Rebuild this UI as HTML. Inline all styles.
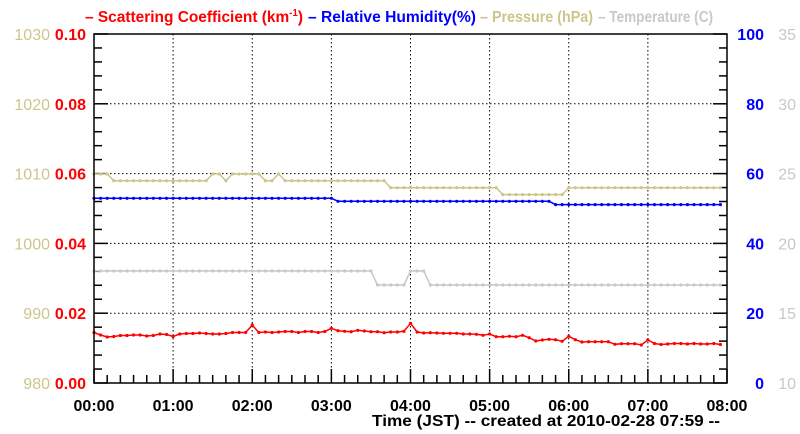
<!DOCTYPE html>
<html><head><meta charset="utf-8"><style>
html,body{margin:0;padding:0;background:#fff;}
svg{display:block;font-family:"Liberation Sans",Arial,sans-serif;}
</style></head><body>
<svg id="s" width="800" height="434" viewBox="0 0 800 434" xmlns="http://www.w3.org/2000/svg">
<rect width="800" height="434" fill="#fff"/>
<g font-size="16" font-weight="bold">
<text x="85" y="22" fill="#ff0000" textLength="218" lengthAdjust="spacingAndGlyphs">– Scattering Coefficient (km<tspan dy="-6" font-size="10">-1</tspan><tspan dy="6">)</tspan></text>
<text x="308" y="22" fill="#0000ff" textLength="168" lengthAdjust="spacingAndGlyphs">– Relative Humidity(%)</text>
<text x="480" y="22" fill="#cdc68a" textLength="113" lengthAdjust="spacingAndGlyphs">– Pressure (hPa)</text>
<text x="598" y="22" fill="#c8c8c8" textLength="115" lengthAdjust="spacingAndGlyphs">– Temperature (C)</text>
</g>
<g id="grid" stroke="#000" stroke-width="1" stroke-dasharray="1.5,2.5" fill="none"></g>
<g id="ticks" stroke="#000" stroke-width="1.5" fill="none"></g>
<g id="series"></g>
<rect x="94" y="34" width="633" height="349" fill="none" stroke="#000" stroke-width="1.5"/>
<g id="labels" font-size="15"></g>
<text x="372" y="426" font-size="16" font-weight="bold" fill="#000" textLength="348" lengthAdjust="spacingAndGlyphs">Time (JST)  -- created at 2010-02-28 07:59 --</text>
</svg>
<script>
var NS="http://www.w3.org/2000/svg";
function el(p,t,a,txt){var e=document.createElementNS(NS,t);for(var k in a)e.setAttribute(k,a[k]);if(txt!=null)e.textContent=txt;p.appendChild(e);return e;}
var L=94,R=727,T=34,B=383,W=R-L,H=B-T;
var g=document.getElementById('grid'),tk=document.getElementById('ticks'),lb=document.getElementById('labels'),sr=document.getElementById('series');
for(var h=1;h<8;h++){var x=L+W*h/8;el(g,'line',{x1:x,y1:T,x2:x,y2:B});}
for(var j=1;j<5;j++){var y=B-H*j/5;el(g,'line',{x1:L,y1:y,x2:R,y2:y});}
for(var m=0;m<=48;m++){var x=L+W*m/48;var len=(m%6==0)?14:8;el(tk,'line',{x1:x,y1:B,x2:x,y2:B-len});}
for(var j=0;j<=25;j++){var y=B-H*j/25;var len=(j%5==0)?14:8;el(tk,'line',{x1:L,y1:y,x2:L+len,y2:y});el(tk,'line',{x1:R,y1:y,x2:R-len,y2:y});}
for(var j=0;j<=5;j++){var y=B-H*j/5+6;
el(lb,'text',{x:86,y:y,'text-anchor':'end',fill:'#ff0000','font-weight':'bold','font-size':'16'},(j*0.02).toFixed(2));
el(lb,'text',{x:50,y:y,'text-anchor':'end',fill:'#cdc68a','font-size':'16'},String(980+10*j));
el(lb,'text',{x:764,y:y,'text-anchor':'end',fill:'#0000ff','font-weight':'bold','font-size':'16'},String(20*j));
el(lb,'text',{x:796,y:y,'text-anchor':'end',fill:'#c8c8c8','font-size':'16'},String(10+5*j));}
var hl=['00:00','01:00','02:00','03:00','04:00','05:00','06:00','07:00','08:00'];
for(var h=0;h<=8;h++){el(lb,'text',{x:L+W*h/8,y:411,'text-anchor':'middle','font-weight':'bold',fill:'#000','font-size':'16'},hl[h]);}
function X(i){return L+i*W/96;}
var N=96,P=[],RH=[],TT=[];
for(var i=0;i<N;i++){
 var p=180.7;
 if(i<3||(i>=18&&i<=19)||(i>=21&&i<=25)||i==28)p=174;
 if(i>=45)p=187.7; if(i>=62&&i<=71)p=194.6; if(i>=72)p=187.7;
 P.push(p);
 RH.push(i<=36?198.3:(i<=69?201.3:204.6));
 var t=271; if(i>=43)t=285; if(i>=48&&i<=50)t=271; TT.push(t);
}
var RD=[332.5,335,337,336.5,335.5,335.5,335,335,336,335.5,334,334.5,336.5,334,333.5,333.5,333,333.5,334,334,333.5,332.5,332.5,332.5,325,332.5,332,332.5,332,331.5,331.5,332.5,331.5,331.5,332.5,331.5,328.3,330.7,331.3,331.7,330.3,331,331.7,331.7,332.7,332,332,331.3,323.3,332,333,332.7,333,333.3,333.3,333.3,334,334,334.3,335.3,334,336.7,336.7,336.3,336.7,335.3,337.7,341,340,339.3,339.7,341.3,336.3,339.7,342,341.7,341.7,341.7,341.7,344.3,343.7,343.7,343.7,345,340,343.5,344.5,344,343.5,343.5,344,343.5,344,344,343.5,344.5];
function draw(arr,col,r){var pts=arr.map(function(y,i){return X(i).toFixed(1)+','+y;}).join(' ');
el(sr,'polyline',{points:pts,fill:'none',stroke:col,'stroke-width':1.5});
arr.forEach(function(y,i){el(sr,'circle',{cx:X(i),cy:y,r:r,fill:col});});}
draw(TT,'#c8c8c8',1.6);draw(P,'#cdc68a',1.6);draw(RH,'#0000ff',1.6);draw(RD,'#ff0000',1.6);
</script>
</body></html>
